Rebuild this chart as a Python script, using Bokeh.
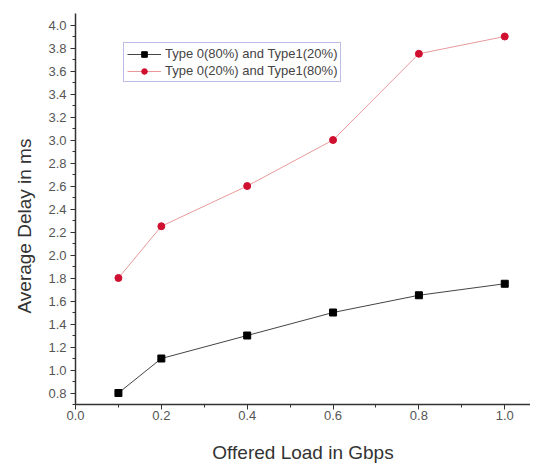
from bokeh.plotting import figure
from bokeh.models import Range1d, FixedTicker, Legend, LegendItem, CustomJSTickFormatter, Title
from bokeh.embed import file_html
from bokeh.resources import INLINE

load = [0.1, 0.2, 0.4, 0.6, 0.8, 1.0]
type0_80 = [0.8, 1.1, 1.3, 1.5, 1.65, 1.75]
type0_20 = [1.8, 2.25, 2.6, 3.0, 3.75, 3.9]
series_names = ["Type 0(80%) and Type1(20%)", "Type 0(20%) and Type1(80%)"]
x_ticks = [0.0, 0.2, 0.4, 0.6, 0.8, 1.0]
y_ticks = [0.8, 1.0, 1.2, 1.4, 1.6, 1.8, 2.0, 2.2, 2.4, 2.6, 2.8, 3.0, 3.2, 3.4, 3.6, 3.8, 4.0]
x_title = "Offered Load in Gbps"
y_title = "Average Delay in ms"

p = figure(frame_width=455, frame_height=391, output_backend="svg", toolbar_location=None,
           x_range=Range1d(0.0, 1.06), y_range=Range1d(0.7, 4.1),
           min_border_left=75, min_border_right=0, min_border_top=13, min_border_bottom=50)
p.outline_line_color = None
p.xgrid.visible = False
p.ygrid.visible = False

l1 = p.line(load, type0_80, line_color="#444444", line_width=1)
m1 = p.scatter(load, type0_80, marker="square", size=7, fill_color="black", line_color="black")
l2 = p.line(load, type0_20, line_color="#e89a9a", line_width=1)
m2 = p.scatter(load, type0_20, marker="circle", size=7, fill_color="#d01030", line_color="#d01030")

legend = Legend(items=[LegendItem(label=series_names[0], renderers=[l1, m1]),
                       LegendItem(label=series_names[1], renderers=[l2, m2])],
                location=(48, 322))
legend.border_line_color = "#7777cc"
legend.border_line_width = 1
legend.background_fill_alpha = 0.0
legend.label_text_font = "Liberation Sans"
legend.label_text_font_size = "13px"
legend.label_text_color = "#444444"
legend.glyph_width = 34
legend.glyph_height = 14
legend.label_height = 14
legend.spacing = 2
legend.padding = 3
legend.margin = 0
legend.label_standoff = 4
p.add_layout(legend)

fmt = CustomJSTickFormatter(code="return tick.toFixed(1);")
for ax in (p.xaxis[0], p.yaxis[0]):
    ax.axis_line_color = "#333333"
    ax.axis_line_width = 1.5
    ax.major_tick_line_color = "#333333"
    ax.minor_tick_line_color = "#333333"
    ax.major_tick_out = 5
    ax.major_tick_in = 0
    ax.minor_tick_out = 3
    ax.minor_tick_in = 0
    ax.major_label_text_font = "Liberation Sans"
    ax.major_label_text_font_size = "13px"
    ax.major_label_text_color = "#555555"
    ax.axis_label_text_font = "Liberation Sans"
    ax.axis_label_text_font_style = "normal"
    ax.axis_label_text_color = "#333333"
    ax.formatter = fmt

p.xaxis[0].ticker = FixedTicker(ticks=x_ticks, minor_ticks=[0.1, 0.3, 0.5, 0.7, 0.9])
p.yaxis[0].ticker = FixedTicker(ticks=y_ticks, minor_ticks=[round(0.7 + 0.2 * i, 2) for i in range(17)])
p.xaxis[0].axis_label = x_title
p.xaxis[0].axis_label_text_font_size = "19px"
p.xaxis[0].major_label_standoff = 1
p.xaxis[0].axis_label_standoff = 19
p.yaxis[0].major_label_standoff = 4

ytitle = Title(text=y_title, align="left", offset=91, standoff=21,
               text_font="Liberation Sans", text_font_size="19px",
               text_font_style="normal", text_color="#333333")
p.add_layout(ytitle, "left")

open("out.html", "w").write(file_html(p, INLINE))
